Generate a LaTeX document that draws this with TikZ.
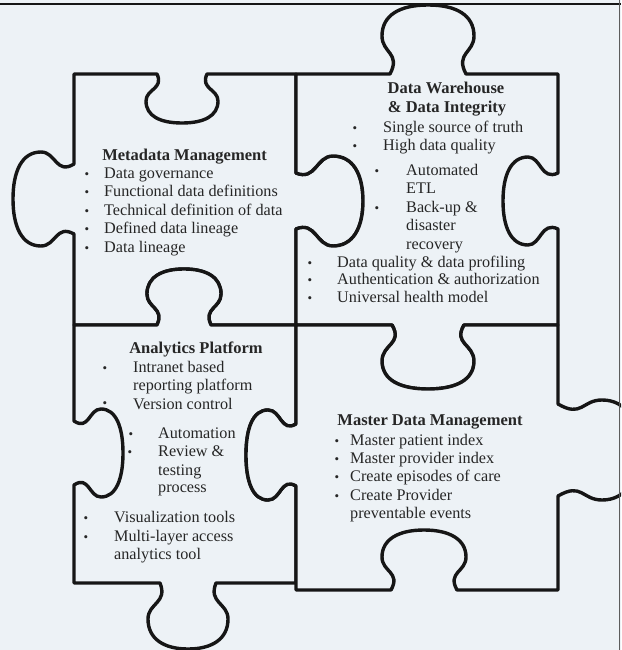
\documentclass[tikz,border=0pt]{standalone}
\usepackage{fontspec}
\setmainfont{Liberation Serif}
\usepackage{tikz}

\definecolor{paper}{RGB}{237,242,246}
\definecolor{ink}{RGB}{22,22,22}
\definecolor{print}{RGB}{38,38,38}

\begin{document}
\begin{tikzpicture}[x=1pt,y=-1pt]
\tikzstyle{piece}=[draw=ink,fill=paper,line width=3.4pt,line join=round]
\tikzstyle{ptitle}=[anchor=base,inner sep=0pt,text=print,font=\fontsize{16.5}{18.5}\selectfont\bfseries]
\tikzstyle{entry}=[anchor=base west,inner sep=0pt,text=print,font=\fontsize{16.2}{18.5}\selectfont]
\tikzstyle{bul}=[anchor=base,inner sep=0pt,text=print,font=\fontsize{13}{13}\selectfont]

\useasboundingbox (0,0) rectangle (621,650);
\clip (0,0) rectangle (621,650);
\fill [paper] (0,0) rectangle (621,650);

% Metadata piece
\draw [piece] (74,74) -- (157,74)
  .. controls (164,89) and (146,89) .. (146,101)
  .. controls (146,116) and (160,123) .. (182,123)
  .. controls (204,123) and (218,116) .. (218,101)
  .. controls (218,89) and (200,89) .. (207,74)
  -- (296,74) -- (296,173)
  .. controls (316,181) and (316,156) .. (333,156)
  .. controls (353,156) and (363,174) .. (363,201)
  .. controls (363,228) and (353,246) .. (333,246)
  .. controls (316,246) and (316,221) .. (296,229)
  -- (296,325) -- (211,325)
  .. controls (203,308) and (221,308) .. (221,294)
  .. controls (221,277) and (206,269) .. (184,269)
  .. controls (162,269) and (147,277) .. (147,294)
  .. controls (147,308) and (165,308) .. (157,325)
  -- (74,325) -- (74,234)
  .. controls (56,224) and (56,246) .. (41,246)
  .. controls (22,246) and (13,227) .. (13,199)
  .. controls (13,171) and (22,152) .. (41,152)
  .. controls (56,152) and (56,175) .. (74,164)
  -- cycle;

% Data warehouse piece
\draw [piece] (296,74) -- (390,74)
  .. controls (401,53) and (382,53) .. (382,36)
  .. controls (382,15) and (400,5) .. (428,5)
  .. controls (456,5) and (474,15) .. (474,36)
  .. controls (474,53) and (455,53) .. (466,74)
  -- (558,74) -- (558,173)
  .. controls (541,181) and (541,157) .. (528,157)
  .. controls (511,157) and (503,175) .. (503,201)
  .. controls (503,227) and (511,245) .. (528,245)
  .. controls (541,245) and (541,221) .. (558,229)
  -- (558,325) -- (464,325)
  .. controls (453,344) and (474,344) .. (474,361)
  .. controls (474,380) and (456,389) .. (428,389)
  .. controls (400,389) and (382,380) .. (382,361)
  .. controls (382,344) and (403,344) .. (392,325)
  -- (296,325) -- (296,229)
  .. controls (316,221) and (316,246) .. (333,246)
  .. controls (353,246) and (363,228) .. (363,201)
  .. controls (363,174) and (353,156) .. (333,156)
  .. controls (316,156) and (316,181) .. (296,173)
  -- cycle;

% Analytics piece
\draw [piece] (74,325) -- (157,325)
  .. controls (165,308) and (147,308) .. (147,294)
  .. controls (147,277) and (162,269) .. (184,269)
  .. controls (206,269) and (221,277) .. (221,294)
  .. controls (221,308) and (203,308) .. (211,325)
  -- (296,325) -- (296,424)
  .. controls (281,433) and (281,410) .. (268,410)
  .. controls (253,410) and (246,428) .. (246,455)
  .. controls (246,482) and (253,500) .. (268,500)
  .. controls (281,500) and (281,477) .. (296,486)
  -- (296,583) -- (216,583)
  .. controls (208,603) and (228,603) .. (228,619)
  .. controls (228,639) and (212,649) .. (188,649)
  .. controls (164,649) and (148,639) .. (148,619)
  .. controls (148,603) and (168,603) .. (160,583)
  -- (74,583) -- (74,485)
  .. controls (89,475) and (89,497) .. (101,497)
  .. controls (116,497) and (123,479) .. (123,453)
  .. controls (123,427) and (116,409) .. (101,409)
  .. controls (89,409) and (89,431) .. (74,421)
  -- cycle;

% Master data piece
\draw [piece] (296,325) -- (392,325)
  .. controls (403,344) and (382,344) .. (382,361)
  .. controls (382,380) and (400,389) .. (428,389)
  .. controls (456,389) and (474,380) .. (474,361)
  .. controls (474,344) and (453,344) .. (464,325)
  -- (558,325) -- (558,404)
  .. controls (582,418) and (582,400) .. (602,400)
  .. controls (626,400) and (638,420) .. (638,450)
  .. controls (638,480) and (626,500) .. (602,500)
  .. controls (582,500) and (582,482) .. (558,496)
  -- (558,590) -- (457,590)
  .. controls (447,572) and (466,572) .. (466,557)
  .. controls (466,539) and (449,530) .. (424,530)
  .. controls (399,530) and (382,539) .. (382,557)
  .. controls (382,572) and (401,572) .. (391,590)
  -- (296,590) -- (296,486)
  .. controls (281,477) and (281,500) .. (268,500)
  .. controls (253,500) and (246,482) .. (246,455)
  .. controls (246,428) and (253,410) .. (268,410)
  .. controls (281,410) and (281,433) .. (296,424)
  -- cycle;

\draw [ink,line width=2.5pt] (0,4) -- (621,4);
\draw [ink!70,line width=1pt] (619.5,0) -- (619.5,650);

% Metadata Management
\node (meta_title) [ptitle] at (184.5,160) {Metadata Management};
\node (meta_b1) [bul] at (87,178) {\textbullet};
\node (meta_t1) [entry] at (104,178) {Data governance};
\node (meta_b2) [bul] at (87,196.5) {\textbullet};
\node (meta_t2) [entry] at (104,196.5) {Functional data definitions};
\node (meta_b3) [bul] at (87,215) {\textbullet};
\node (meta_t3) [entry] at (104,215) {Technical definition of data};
\node (meta_b4) [bul] at (87,233.5) {\textbullet};
\node (meta_t4) [entry] at (104,233.5) {Defined data lineage};
\node (meta_b5) [bul] at (87,252) {\textbullet};
\node (meta_t5) [entry] at (104,252) {Data lineage};

% Data Warehouse & Data Integrity
\node (dw_title1) [ptitle] at (446,94) {Data Warehouse};
\node (dw_title2) [ptitle] at (447,113) {\& Data Integrity};
\node (dw_b1) [bul] at (355,132) {\textbullet};
\node (dw_t1) [entry] at (383,132) {Single source of truth};
\node (dw_b2) [bul] at (355,150) {\textbullet};
\node (dw_t2) [entry] at (383,150) {High data quality};
\node (dw_b3) [bul] at (377,175) {\textbullet};
\node (dw_t3) [entry] at (406,175) {Automated};
\node (dw_t3b) [entry] at (406,193) {ETL};
\node (dw_b4) [bul] at (377,212) {\textbullet};
\node (dw_t4) [entry] at (406,212) {Back-up \&};
\node (dw_t4b) [entry] at (406,230) {disaster};
\node (dw_t4c) [entry] at (406,249) {recovery};
\node (dw_b5) [bul] at (310,267) {\textbullet};
\node (dw_t5) [entry] at (337,267) {Data quality \& data profiling};
\node (dw_b6) [bul] at (310,284) {\textbullet};
\node (dw_t6) [entry] at (337,284) {Authentication \& authorization};
\node (dw_b7) [bul] at (310,302) {\textbullet};
\node (dw_t7) [entry] at (337,302) {Universal health model};

% Analytics Platform
\node (ap_title) [ptitle] at (196,353) {Analytics Platform};
\node (ap_b1) [bul] at (105,372) {\textbullet};
\node (ap_t1) [entry] at (133,372) {Intranet based};
\node (ap_t1b) [entry] at (133,390) {reporting platform};
\node (ap_b2) [bul] at (105,407) {\textbullet};
\node (ap_t2) [entry] at (133,409) {Version control};
\node (ap_b3) [bul] at (131,438) {\textbullet};
\node (ap_t3) [entry] at (158,438) {Automation};
\node (ap_b4) [bul] at (130,456) {\textbullet};
\node (ap_t4) [entry] at (158,456) {Review \&};
\node (ap_t4b) [entry] at (158,475) {testing};
\node (ap_t4c) [entry] at (158,492) {process};
\node (ap_b5) [bul] at (86,522) {\textbullet};
\node (ap_t5) [entry] at (114,522) {Visualization tools};
\node (ap_b6) [bul] at (86,541) {\textbullet};
\node (ap_t6) [entry] at (114,541) {Multi-layer access};
\node (ap_t6b) [entry] at (114,559) {analytics tool};

% Master Data Management
\node (md_title) [ptitle] at (430,425) {Master Data Management};
\node (md_b1) [bul] at (337,445) {\textbullet};
\node (md_t1) [entry] at (350,445) {Master patient index};
\node (md_b2) [bul] at (337,463) {\textbullet};
\node (md_t2) [entry] at (350,463) {Master provider index};
\node (md_b3) [bul] at (337,481) {\textbullet};
\node (md_t3) [entry] at (350,481) {Create episodes of care};
\node (md_b4) [bul] at (337,500) {\textbullet};
\node (md_t4) [entry] at (350,500) {Create Provider};
\node (md_t4b) [entry] at (350,518) {preventable events};

\end{tikzpicture}
\end{document}
